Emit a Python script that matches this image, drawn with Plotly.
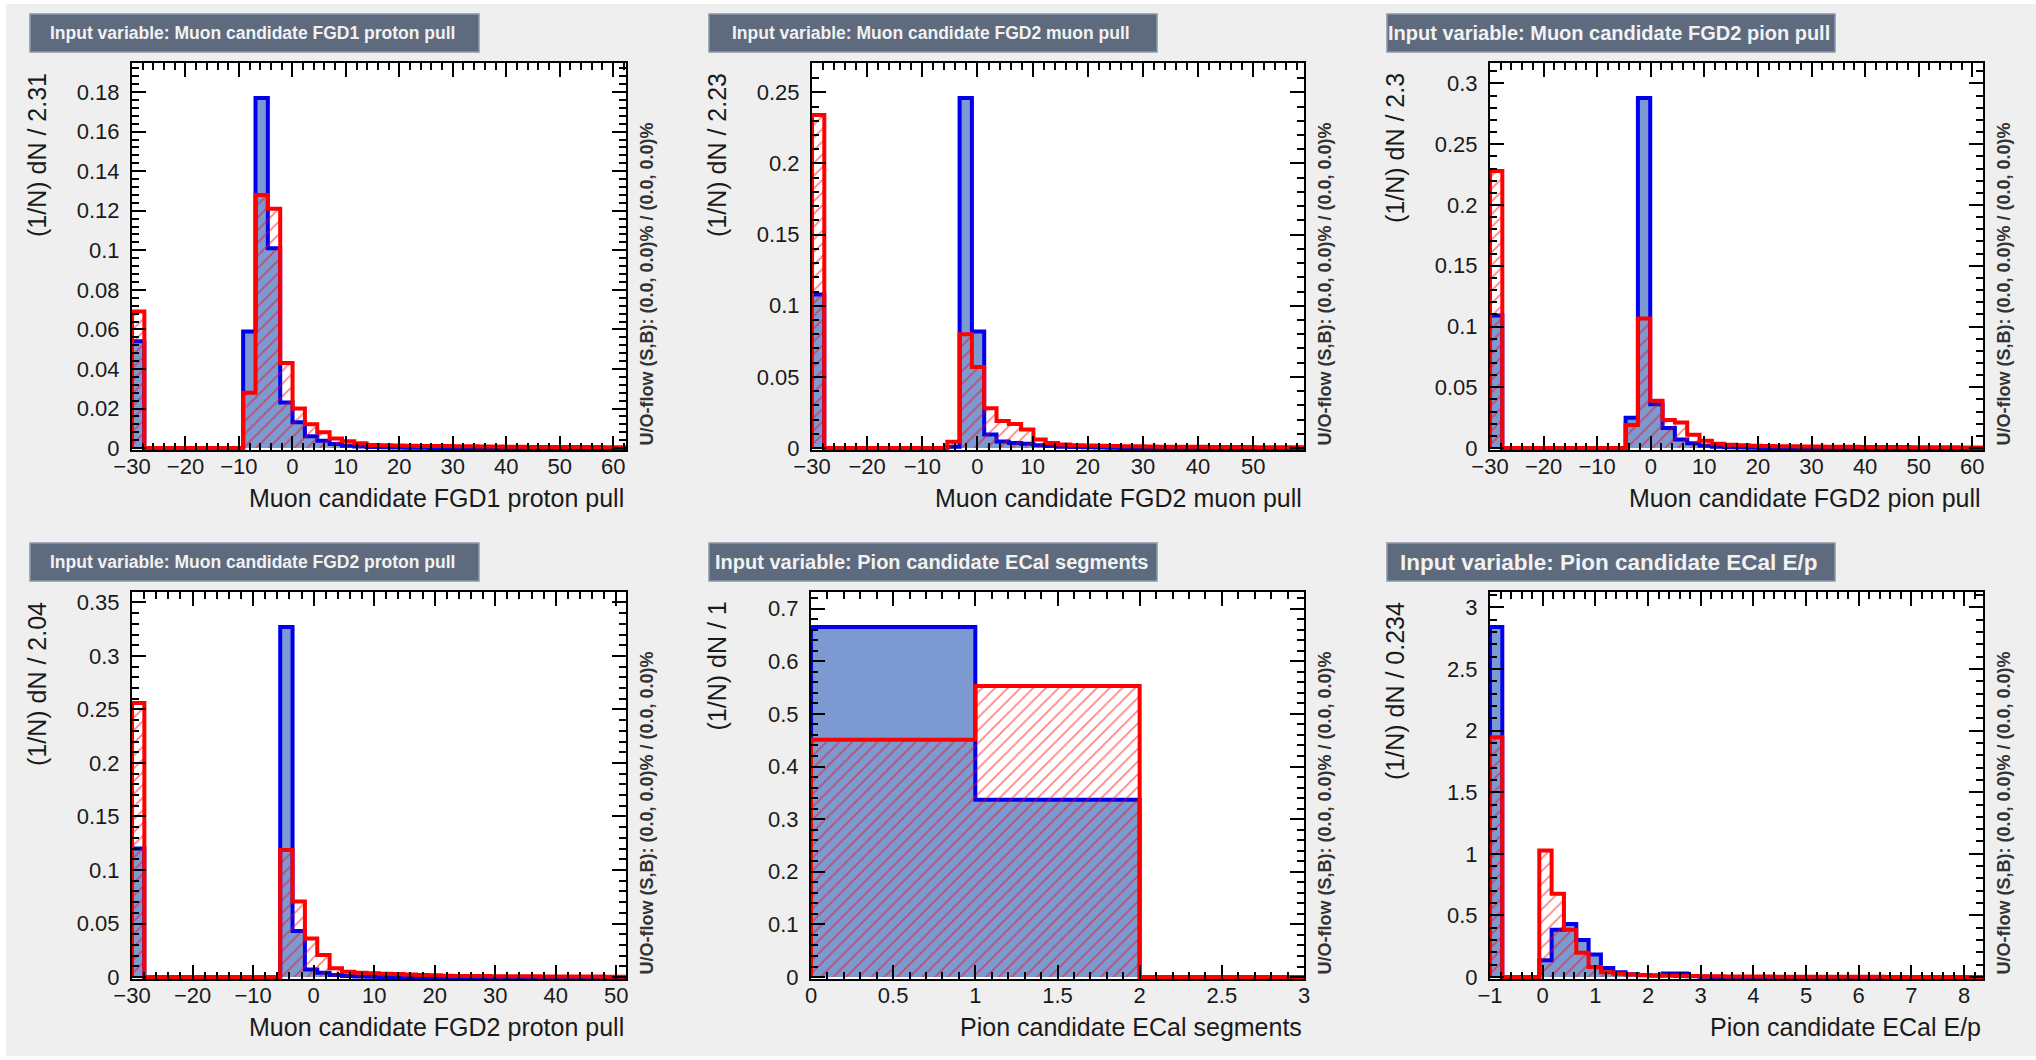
import plotly.graph_objects as go

W, H = 2036, 1060

# ---------------- data ----------------
panel_titles = [
    "Input variable: Muon candidate FGD1 proton pull",
    "Input variable: Muon candidate FGD2 muon pull",
    "Input variable: Muon candidate FGD2 pion pull",
    "Input variable: Muon candidate FGD2 proton pull",
    "Input variable: Pion candidate ECal segments",
    "Input variable: Pion candidate ECal E/p",
]
x_titles = [
    "Muon candidate FGD1 proton pull",
    "Muon candidate FGD2 muon pull",
    "Muon candidate FGD2 pion pull",
    "Muon candidate FGD2 proton pull",
    "Pion candidate ECal segments",
    "Pion candidate ECal E/p",
]
y_titles = [
    "(1/N) dN / 2.31",
    "(1/N) dN / 2.23",
    "(1/N) dN / 2.3",
    "(1/N) dN / 2.04",
    "(1/N) dN / 1",
    "(1/N) dN / 0.234",
]
overflow_text = "U/O-flow (S,B): (0.0, 0.0)% / (0.0, 0.0)%"

x_start = [-30, -30, -30, -30, 0, -1]
bin_width = [2.31, 2.23, 2.3, 2.04, 1, 0.234]

signal_1 = [0.054, 0, 0, 0, 0, 0, 0, 0, 0, 0.059, 0.177, 0.101, 0.023, 0.013, 0.006,
            0.0037, 0.002, 0.0012, 0.0008, 0.0005, 0.0004, 0.0003, 0.0002, 0.0002,
            0, 0, 0, 0, 0, 0, 0, 0, 0, 0, 0, 0, 0, 0, 0, 0]
background_1 = [0.069, 0, 0, 0, 0, 0, 0, 0, 0, 0.028, 0.128, 0.121, 0.043, 0.020, 0.012,
                0.008, 0.0048, 0.0034, 0.0025, 0.0015, 0.0014, 0.0013, 0.0012, 0.0011,
                0.001, 0.001, 0.0009, 0.0009, 0.0008, 0.0008, 0.0007, 0.0007, 0.0006,
                0.0006, 0.0006, 0.0005, 0.0005, 0.0005, 0.0004, 0.0004]

signal_2 = [0.108, 0, 0, 0, 0, 0, 0, 0, 0, 0, 0, 0.001, 0.246, 0.082, 0.0095, 0.0047,
            0.0035, 0.003, 0.002, 0.0015, 0.001, 0.0008, 0.0005, 0.0004, 0.0003,
            0, 0, 0, 0, 0, 0, 0, 0, 0, 0, 0, 0, 0, 0, 0]
background_2 = [0.234, 0, 0, 0, 0, 0, 0, 0, 0, 0, 0, 0.0045, 0.080, 0.057, 0.028, 0.019,
                0.017, 0.013, 0.006, 0.0035, 0.0025, 0.002, 0.0018, 0.0016, 0.0014,
                0.0013, 0.0012, 0.0011, 0.001, 0.001, 0.0009, 0.0009, 0.0008, 0.0008,
                0.0007, 0.0007, 0.0006, 0.0006, 0.0005, 0.0005]

signal_3 = [0.109, 0, 0, 0, 0, 0, 0, 0, 0, 0, 0, 0.025, 0.288, 0.036, 0.0166, 0.007,
            0.004, 0.002, 0.001, 0.0007, 0.0005, 0.0003,
            0, 0, 0, 0, 0, 0, 0, 0, 0, 0, 0, 0, 0, 0, 0, 0, 0, 0]
background_3 = [0.228, 0, 0, 0, 0, 0, 0, 0, 0, 0, 0, 0.019, 0.1065, 0.039, 0.023, 0.021,
                0.011, 0.006, 0.0035, 0.0028, 0.0024, 0.002, 0.0018, 0.0016, 0.0014,
                0.0013, 0.0012, 0.0011, 0.001, 0.001, 0.0009, 0.0009, 0.0008, 0.0008,
                0.0007, 0.0007, 0.0006, 0.0006, 0.0005, 0.0005]

signal_4 = [0.12, 0, 0, 0, 0, 0, 0, 0, 0, 0, 0, 0, 0.327, 0.043, 0.007, 0.004, 0.002,
            0.001, 0.0006, 0.0004,
            0, 0, 0, 0, 0, 0, 0, 0, 0, 0, 0, 0, 0, 0, 0, 0, 0, 0, 0, 0]
background_4 = [0.256, 0, 0, 0, 0, 0, 0, 0, 0, 0, 0, 0, 0.1187, 0.0705, 0.036, 0.0207,
                0.0083, 0.005, 0.004, 0.0035, 0.003, 0.0028, 0.0025, 0.002, 0.0016,
                0.0013, 0.0011, 0.001, 0.0009, 0.0008, 0.0008, 0.0007, 0.0007, 0.0006,
                0.0006, 0.0005, 0.0005, 0.0005, 0.0004, 0.0004]

signal_5 = [0.665, 0.337, 0.0]
background_5 = [0.451, 0.553, 0.0]

signal_6 = [2.84, 0, 0, 0, 0.137, 0.384, 0.43, 0.30, 0.184, 0.074, 0.04, 0.022, 0.015,
            0.012, 0.03, 0.03, 0.006, 0.003,
            0, 0, 0, 0, 0, 0, 0, 0, 0, 0, 0, 0, 0, 0, 0, 0, 0, 0, 0, 0, 0, 0]
background_6 = [1.945, 0, 0, 0, 1.027, 0.677, 0.384, 0.197, 0.082, 0.04, 0.027, 0.02,
                0.016, 0.013, 0.011, 0.009, 0.008, 0.007, 0.006, 0.005, 0.005, 0.004,
                0.004, 0.003, 0.003, 0.003, 0.002, 0.002, 0.002, 0.002, 0.002, 0.002,
                0.001, 0.001, 0.001, 0.001, 0.001, 0.001, 0.001, 0.001]

signals = [signal_1, signal_2, signal_3, signal_4, signal_5, signal_6]
backgrounds = [background_1, background_2, background_3, background_4, background_5, background_6]

x_major = [10, 10, 10, 10, 0.5, 1]
x_minor = [2, 2, 2, 2, 0.1, 0.2]
y_major = [0.02, 0.05, 0.05, 0.05, 0.1, 0.5]
y_minor = [0.004, 0.01, 0.01, 0.01, 0.02, 0.1]
title_font_sizes = [17.5, 17.5, 20, 17.5, 20, 22.5]

# ---------------- layout geometry (pixels) ----------------
frames = [  # x0, x1, y0(top), y1(bottom)
    (132, 626, 63, 450),
    (812, 1304, 63, 450),
    (1490, 1983, 63, 450),
    (132, 626, 592, 979),
    (811, 1304, 592, 979),
    (1490, 1983, 592, 979),
]
title_boxes = [  # x0, x1, y0, y1
    (30, 479, 14, 52),
    (709, 1157, 14, 52),
    (1387, 1835, 14, 52),
    (30, 479, 543, 581),
    (709, 1157, 543, 581),
    (1387, 1835, 543, 581),
]

SIG_FILL = "#7d99d1"
SIG_LINE = "#0000ee"
BKG_LINE = "#ff0000"
FONT = "Liberation Sans, Arial, Helvetica, sans-serif"


def px(x):
    return x / W


def py(y):
    return 1 - y / H


def step(x0, w, vals):
    edges = [x0 + i * w for i in range(len(vals) + 1)]
    xs = [edges[0]] + edges
    ys = [0] + list(vals) + [0]
    return xs, ys


fig = go.Figure()
layout = dict(
    width=W, height=H, autosize=False,
    margin=dict(l=0, r=0, t=0, b=0, pad=0, autoexpand=False),
    paper_bgcolor="#efefef", plot_bgcolor="#ffffff",
    showlegend=False,
    font=dict(family=FONT, color="#1a1a1a"),
)
shapes = []
annotations = []

# white outer margins
shapes.append(dict(type="rect", xref="paper", yref="paper", x0=0, x1=px(6), y0=0, y1=1,
                   fillcolor="white", line=dict(width=0), layer="below"))
shapes.append(dict(type="rect", xref="paper", yref="paper", x0=0, x1=1, y0=py(4), y1=1,
                   fillcolor="white", line=dict(width=0), layer="below"))
shapes.append(dict(type="rect", xref="paper", yref="paper", x0=0, x1=1, y0=0, y1=py(1056),
                   fillcolor="white", line=dict(width=0), layer="below"))

for i in range(6):
    k = i + 1
    xa = "x" if k == 1 else f"x{k}"
    ya = "y" if k == 1 else f"y{k}"
    sig, bkg = signals[i], backgrounds[i]
    n = len(sig)
    xs, ys = step(x_start[i], bin_width[i], sig)
    fig.add_trace(go.Scatter(x=xs, y=ys, mode="lines", line=dict(color=SIG_LINE, width=4, shape="hv"),
                             fill="tozeroy", fillcolor=SIG_FILL, xaxis=xa, yaxis=ya, hoverinfo="skip"))
    xs, ys = step(x_start[i], bin_width[i], bkg)
    fig.add_trace(go.Scatter(x=xs, y=ys, mode="lines", line=dict(color=BKG_LINE, width=4, shape="hv"),
                             fill="tozeroy", fillcolor="rgba(0,0,0,0)",
                             fillpattern=dict(shape="/", fgcolor=BKG_LINE, bgcolor="rgba(0,0,0,0)",
                                              size=9, solidity=0.18),
                             xaxis=xa, yaxis=ya, hoverinfo="skip"))

    x0, x1, y0, y1 = frames[i]
    ytop = 1.1 * max(max(sig), max(bkg))
    common = dict(showline=True, linecolor="black", linewidth=2, mirror="ticks",
                  ticks="inside", ticklen=14, tickwidth=2, tickcolor="black",
                  showgrid=False, zeroline=False, automargin=False,
                  tickfont=dict(family=FONT, size=22, color="#1a1a1a"))
    layout["xaxis" if k == 1 else f"xaxis{k}"] = dict(
        common, domain=[px(x0), px(x1)], anchor=ya,
        range=[x_start[i], x_start[i] + n * bin_width[i]],
        tick0=x_start[i], dtick=x_major[i], ticklabelstandoff=-4,
        minor=dict(ticks="inside", ticklen=7, tickwidth=2, tickcolor="black",
                   tick0=x_start[i], dtick=x_minor[i], showgrid=False),
    )
    layout["yaxis" if k == 1 else f"yaxis{k}"] = dict(
        common, domain=[py(y1), py(y0)], anchor=xa,
        range=[-0.005 * ytop, ytop],
        tick0=0, dtick=y_major[i], ticklabelstandoff=6,
        minor=dict(ticks="inside", ticklen=7, tickwidth=2, tickcolor="black",
                   tick0=0, dtick=y_minor[i], showgrid=False),
    )

    # x title (right aligned)
    annotations.append(dict(text=x_titles[i], xref="paper", yref="paper", x=px(x1), y=py(y1 + 48),
                            xanchor="right", yanchor="middle", showarrow=False,
                            font=dict(family=FONT, size=25, color="#1a1a1a")))
    # y title (rotated, top aligned)
    annotations.append(dict(text=y_titles[i], xref="paper", yref="paper", x=px(x0 - 95), y=py(y0 + 8),
                            xanchor="center", yanchor="top", textangle=-90, showarrow=False,
                            font=dict(family=FONT, size=25, color="#1a1a1a")))
    # under/overflow text
    annotations.append(dict(text=overflow_text, xref="paper", yref="paper", x=px(x1 + 20), y=py(y1 - 2),
                            xanchor="center", yanchor="bottom", textangle=-90, showarrow=False,
                            font=dict(family=FONT, size=18, color="#333333", weight="bold")))
    # title box
    bx0, bx1, by0, by1 = title_boxes[i]
    shapes.append(dict(type="rect", xref="paper", yref="paper", x0=px(bx0), x1=px(bx1),
                       y0=py(by1), y1=py(by0), fillcolor="#5e6b7e",
                       line=dict(color="#8c99aa", width=1.5), layer="above"))
    annotations.append(dict(text=panel_titles[i], xref="paper", yref="paper",
                            x=px((bx0 + bx1) / 2 - 2), y=py((by0 + by1) / 2),
                            xanchor="center", yanchor="middle", showarrow=False,
                            font=dict(family=FONT, size=title_font_sizes[i], color="#f2f2f2",
                                      weight="bold")))

layout["shapes"] = shapes
layout["annotations"] = annotations
fig.update_layout(**layout)
fig.write_html("out.html",
               config={"displayModeBar": False},
               post_script="document.body.style.margin='0';document.body.style.overflow='hidden';")
